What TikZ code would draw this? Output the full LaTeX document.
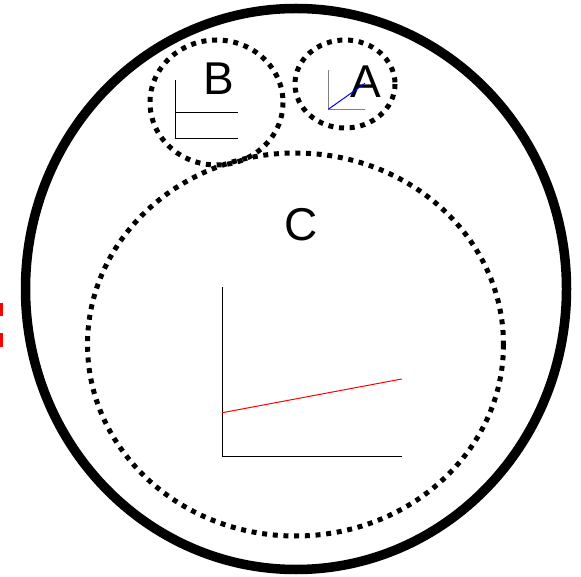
\documentclass[tikz,border=0pt]{standalone}
\usepackage{fontspec}
\setmainfont{Liberation Sans}
\usepackage{xcolor}
\usepackage{tikz}

\begin{document}
\begin{tikzpicture}[x=1pt,y=-1pt,
    dotted ring/.style={line width=5pt, dash pattern=on 5pt off 5.7pt},
    letter/.style={font=\fontsize{46}{46}\selectfont, inner sep=0pt}]
    \useasboundingbox (0,0) rectangle (581,577);

    % Draw outer circle
    \draw[line width=9.5pt] (296,289) ellipse (270.5 and 280.5);

    % Draw red marks on the left
    \fill[red] (0,303.5) rectangle (2.8,316);
    \fill[red] (0,333.5) rectangle (2.8,346.5);

    % Draw dotted circles
    \draw[dotted ring] (216.5,102.5) ellipse (66.5 and 62.5);
    \draw[dotted ring] (345,84) ellipse (50 and 44);
    \draw[dotted ring] (295.5,344.5) ellipse (208 and 191.5);

    % Draw labels
    \node[letter] (labB) at (219,78.5) {B};
    \node[letter] (labA) at (366,82) {A};
    \node[letter] (labC) at (301,225) {C};

    % Draw small axes in B
    \draw[line width=1pt] (175.7,80) -- (175.7,139) -- (238,139);
    \draw[line width=1pt] (175.7,112.7) -- (238,112.7);

    % Draw small axes in A
    \draw[gray, line width=1pt] (328.3,70) -- (328.3,109.3) -- (365,109.3);
    \draw[blue, line width=1pt] (328.3,109.3) -- (365,83.3);

    % Draw plot in C
    \draw[line width=1pt] (222.3,286.7) -- (222.3,456) -- (401.7,456);
    \draw[red, line width=1pt] (222.3,412.7) -- (401.7,379);
\end{tikzpicture}
\end{document}
